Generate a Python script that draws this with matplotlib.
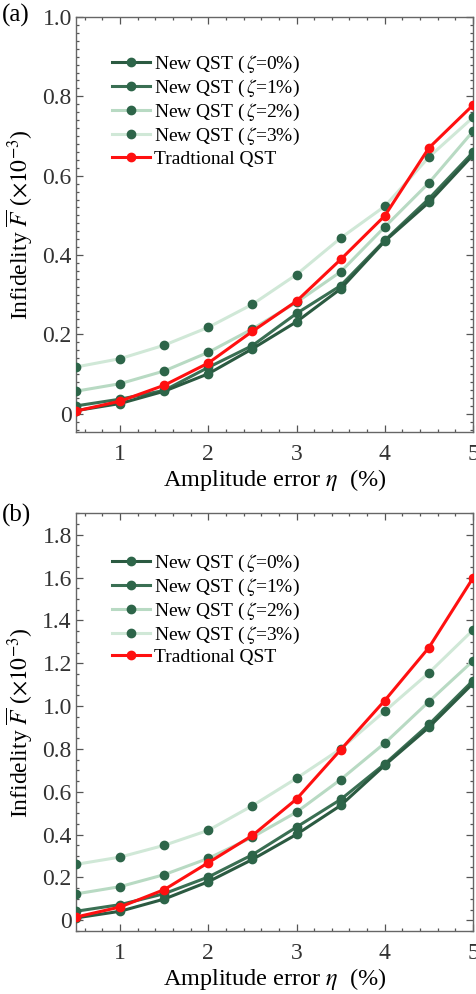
import numpy as np
import matplotlib
matplotlib.use("Agg")
import matplotlib.pyplot as plt
from matplotlib.ticker import MultipleLocator, FuncFormatter

plt.rcParams['font.family'] = ['Liberation Serif', 'DejaVu Serif']
plt.rcParams['mathtext.fontset'] = 'stix'

# amplitude error eta (%)
eta = [0.5, 1.0, 1.5, 2.0, 2.5, 3.0, 3.5, 4.0, 4.5, 5.0]

labels = ["New QST ($\\,\\zeta$=0%)", "New QST ($\\,\\zeta$=1%)", "New QST ($\\,\\zeta$=2%)",
          "New QST ($\\,\\zeta$=3%)", "Tradtional QST"]

# panel (a), infidelity x 1e-3
a_z0 = [0.008, 0.026, 0.057, 0.101, 0.164, 0.232, 0.315, 0.435, 0.533, 0.652]
a_z1 = [0.020, 0.037, 0.059, 0.117, 0.172, 0.253, 0.323, 0.437, 0.542, 0.659]
a_z2 = [0.057, 0.076, 0.108, 0.155, 0.214, 0.281, 0.358, 0.471, 0.582, 0.712]
a_z3 = [0.118, 0.139, 0.173, 0.218, 0.276, 0.351, 0.443, 0.523, 0.647, 0.747]
a_trad = [0.007, 0.032, 0.072, 0.128, 0.208, 0.284, 0.389, 0.499, 0.670, 0.778]

# panel (b)
b_z0 = [0.011, 0.042, 0.099, 0.180, 0.284, 0.401, 0.536, 0.724, 0.901, 1.106]
b_z1 = [0.042, 0.073, 0.124, 0.202, 0.306, 0.435, 0.564, 0.730, 0.914, 1.119]
b_z2 = [0.123, 0.157, 0.213, 0.289, 0.388, 0.505, 0.657, 0.827, 1.021, 1.211]
b_z3 = [0.261, 0.295, 0.350, 0.420, 0.535, 0.663, 0.800, 0.976, 1.155, 1.355]
b_trad = [0.015, 0.062, 0.143, 0.269, 0.396, 0.566, 0.796, 1.026, 1.273, 1.598]

line_colors = ['#2b5a41', '#3a6f53', '#b8dac3', '#d0e8d7', '#ff1010']
marker_color = '#2d6549'


def fmt(v, pos):
    if abs(v) < 1e-9:
        return '0'
    return '%.1f' % v


def draw_panel(ax, series, ylim, ymajor, yminor, legend_y):
    # draw light curves first so the darker ones sit on top
    order = [3, 2, 1, 0, 4]
    handles = [None] * 5
    for i in order:
        mc = '#ff1010' if i == 4 else marker_color
        h, = ax.plot(eta, series[i], '-o', color=line_colors[i], lw=2.2,
                     markersize=6, markerfacecolor=mc, markeredgecolor=mc,
                     label=labels[i], zorder=3 + (4 - i) if i < 4 else 10)
        handles[i] = h
    ax.set_xlim(0.5, 5.0)
    ax.set_ylim(*ylim)
    ax.xaxis.set_major_locator(MultipleLocator(1))
    ax.xaxis.set_minor_locator(MultipleLocator(0.2))
    ax.yaxis.set_major_locator(MultipleLocator(ymajor))
    ax.yaxis.set_minor_locator(MultipleLocator(yminor))
    ax.yaxis.set_major_formatter(FuncFormatter(fmt))
    ax.tick_params(which='both', direction='in', top=True, right=True,
                   colors='#555555', labelcolor='#333333', labelsize=17, width=0.9)
    ax.tick_params(which='major', length=5)
    ax.tick_params(which='minor', length=2.5)
    ax.tick_params(axis='x', which='major', pad=9)
    ax.tick_params(axis='y', which='major', pad=3)
    for s in ax.spines.values():
        s.set_color('#666666')
        s.set_linewidth(1.0)
    ax.set_xlabel('Amplitude error $\\eta$  (%)', fontsize=17.5, labelpad=1)
    ax.set_ylabel('Infidelity $\\overline{F}$ ($\\times10^{-3}$)', fontsize=17, labelpad=5)
    ax.legend(handles=handles, loc='upper left', bbox_to_anchor=(0.07, legend_y),
              frameon=False, fontsize=14, handlelength=2.0, handletextpad=0.2,
              labelspacing=0.15, borderaxespad=0)


fig = plt.figure(figsize=(4.77, 9.94), dpi=100)
ax1 = fig.add_axes([0.1593, 0.5657, 0.8323, 0.4172])
ax2 = fig.add_axes([0.1593, 0.0634, 0.8323, 0.4202])

draw_panel(ax1, [a_z0, a_z1, a_z2, a_z3, a_trad], (-0.045, 1.0), 0.2, 0.02, 0.93)
draw_panel(ax2, [b_z0, b_z1, b_z2, b_z3, b_trad], (-0.05, 1.9), 0.2, 0.05, 0.925)

fig.text(0.003, 0.9845, '(a)', fontsize=18, va='center', ha='left')
fig.text(0.003, 0.4815, '(b)', fontsize=18, va='center', ha='left')

fig.savefig('out.png', dpi=100)
